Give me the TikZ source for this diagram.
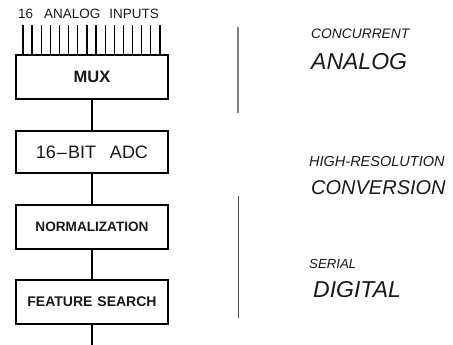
\documentclass[tikz,border=0pt]{standalone}
\usepackage{fontspec}
\setmainfont{Liberation Sans}
\setsansfont{Liberation Sans}
\newcommand{\fsz}[1]{\fontsize{#1}{#1}\selectfont}

\begin{document}
\begin{tikzpicture}[x=1pt, y=-1pt,
  every node/.style={font=\sffamily, text=black!90},
  blk/.style={draw, line width=1.4pt, minimum width=152pt, minimum height=44pt, inner sep=0pt},
  wire/.style={line width=1.3pt},
  bar/.style={line width=1.2pt, black!50},
  tag/.style={anchor=base west, inner sep=0pt, font=\sffamily\itshape}]
  \useasboundingbox (0,0) rectangle (453,345);
  % signal chain
  \node[blk, font=\sffamily\bfseries\fsz{16.5}] (mux) at (92,77) {MUX};
  \node[blk, minimum height=42pt, font=\sffamily\fsz{18}] (adc) at (92,152) {16\kern1pt--\kern1pt BIT\hspace{14pt}ADC};
  \node[blk, font=\sffamily\bfseries\fsz{13.6}] (norm) at (92,227) {NORMALIZATION};
  \node[blk, font=\sffamily\bfseries\fsz{14}] (feat) at (92,302) {FEATURE\hspace{5pt}SEARCH};
  \coordinate (out) at (92,345);
  \draw[wire] (mux) -- (adc);
  \draw[wire] (adc) -- (norm);
  \draw[wire] (norm) -- (feat);
  \draw[wire] (feat) -- (out);
  % the 16 inputs
  \foreach \i in {0,...,15} {
    \coordinate (in\i) at ({23+9.13*\i},25);
    \draw[wire] (in\i) -- (in\i |- mux.north);
  }
  \node[anchor=base west, inner sep=0pt, font=\sffamily\fsz{13.5}] (inlbl) at (18,19)
    {16\hspace{11pt}ANALOG\hspace{9pt}INPUTS};
  % stage brackets and tags
  \coordinate (b1) at (238,27); \coordinate (b2) at (238,113);
  \coordinate (b3) at (238,196); \coordinate (b4) at (238,318);
  \draw[bar] (b1) -- (b2);
  \draw[bar, black!70, line width=1pt] (b3) -- (b4);
  \node[tag, font=\sffamily\itshape\fsz{13.8}] (t1) at (311,39) {CONCURRENT};
  \node[tag, font=\sffamily\itshape\fsz{23}] (t2) at (311,70) {ANALOG};
  \node[tag, font=\sffamily\itshape\fsz{14.5}] (t3) at (309,166) {HIGH-RESOLUTION};
  \node[tag, font=\sffamily\itshape\fsz{20}] (t4) at (311,194) {CONVERSION};
  \node[tag, font=\sffamily\itshape\fsz{13.2}] (t5) at (309,268) {SERIAL};
  \node[tag, font=\sffamily\itshape\fsz{23}] (t6) at (313,297) {DIGITAL};
\end{tikzpicture}
\end{document}
